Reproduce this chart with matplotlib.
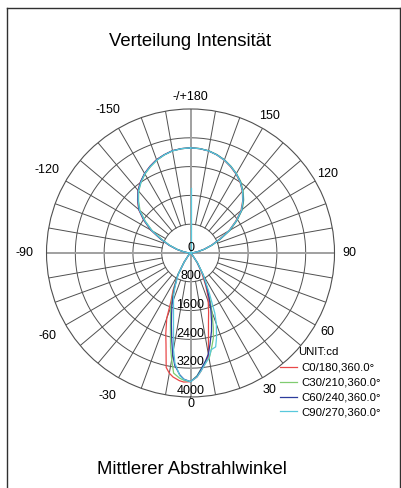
import numpy as np
import matplotlib
matplotlib.use("Agg")
import matplotlib.pyplot as plt
from matplotlib.lines import Line2D

plt.rcParams['font.family'] = ['Liberation Sans', 'DejaVu Sans']

# ====== data (cd) ======
back_neg = list(range(-180, -89, 5))          # -180 .. -90
front = [-60, -40,
         -35, -30, -25, -22, -20, -17, -15, -12, -10, -8, -5, -3, 0,
         3, 5, 8, 10, 12, 15, 17, 20, 22, 25, 30, 35,
         40, 60]
back_pos = list(range(90, 181, 5))            # 90 .. 180
angles = back_neg + front + back_pos

c0 = ([2920, 2910, 2885, 2825, 2760, 2660, 2550, 2420, 2270, 2080, 1880, 1590, 1270, 920, 640, 400, 210, 80, 0]
      + [20, 100,
         300, 700, 1150, 1450, 1930, 2350, 2630, 3250, 3390, 3480, 3560, 3590, 3575,
         3450, 3300, 3060, 2880, 2400, 1930, 1720, 1440, 1300, 1000, 620, 300,
         100, 20]
      + [0, 80, 200, 380, 610, 880, 1230, 1530, 1830, 2050, 2240, 2400, 2530, 2640, 2740, 2820, 2880, 2910, 2920])

c30 = ([2920, 2908, 2880, 2818, 2740, 2640, 2530, 2395, 2240, 2040, 1830, 1530, 1220, 870, 600, 380, 190, 75, 0]
       + [20, 100,
          320, 720, 1080, 1350, 1600, 1900, 2150, 2670, 3010, 3370, 3490, 3540, 3575,
          3420, 3250, 3050, 2980, 2760, 2450, 2165, 1745, 1480, 1150, 720, 350,
          100, 20]
       + [0, 85, 210, 410, 640, 920, 1270, 1580, 1880, 2090, 2270, 2430, 2550, 2660, 2755, 2830, 2885, 2912, 2920])

c60 = ([2920, 2910, 2885, 2825, 2755, 2655, 2550, 2415, 2265, 2070, 1870, 1575, 1260, 905, 630, 395, 200, 80, 0]
       + [20, 100,
          300, 700, 1050, 1300, 1500, 1800, 2050, 2500, 2850, 3150, 3400, 3510, 3575,
          3430, 3260, 3020, 2850, 2600, 2250, 2000, 1650, 1400, 1100, 700, 330,
          100, 20]
       + [0, 80, 200, 390, 620, 900, 1250, 1560, 1860, 2070, 2250, 2415, 2540, 2650, 2750, 2825, 2880, 2910, 2920])

c90 = ([2920, 2908, 2880, 2820, 2745, 2645, 2540, 2400, 2250, 2055, 1850, 1550, 1240, 885, 610, 385, 200, 80, 0]
       + [20, 100,
          300, 680, 1000, 1250, 1380, 1615, 1825, 2270, 2720, 3100, 3420, 3520, 3575,
          3450, 3300, 3080, 2960, 2750, 2700, 2470, 2100, 1800, 1250, 720, 350,
          100, 20]
       + [0, 80, 200, 390, 620, 895, 1240, 1550, 1850, 2060, 2250, 2410, 2540, 2650, 2745, 2822, 2880, 2910, 2920])

spike_angle = [180, 180]
spike_val = [0, 1800]

series_names = ["C0/180,360.0°", "C30/210,360.0°", "C60/240,360.0°", "C90/270,360.0°"]
series_colors = ["#e84848", "#80cc70", "#2c3c9c", "#58c8dc"]

ring_values = [800, 1600, 2400, 3200, 4000]
angle_labels = [0, 30, 60, 90, 120, 150, 180, -150, -120, -90, -60, -30]
r_max = 4000

# ====== figure ======
fig = plt.figure(figsize=(4.02, 4.88), dpi=100)
ax = fig.add_axes([0.1157, 0.1865, 0.7164, 0.5902], projection='polar')
ax.set_theta_zero_location('S')
ax.set_theta_direction(1)
ax.set_ylim(0, r_max)
ax.set_xticks([])
ax.set_yticks([])
ax.grid(False)
ax.spines['polar'].set_color('#505050')
ax.spines['polar'].set_linewidth(0.8)

# grid
full = np.linspace(0, 2 * np.pi, 361)
for r in ring_values[:-1]:
    ax.plot(full, [r] * len(full), color='#505050', lw=0.7, zorder=1)
for a in range(0, 360, 10):
    if a % 90 == 0:
        continue
    t = np.deg2rad(a)
    ax.plot([t, t], [ring_values[0], r_max], color='#505050', lw=0.7, zorder=1)
for a in [0, 90, 180, 270]:
    t = np.deg2rad(a)
    ax.plot([t, t], [0, r_max], color='#a0a0a0', lw=1.4, zorder=1)

# curves
th = np.deg2rad(angles)
handles = []
for vals, col in zip([c0, c30, c60, c90], series_colors):
    h, = ax.plot(th, vals, color=col, lw=0.9, zorder=3)
    handles.append(h)
ax.plot(np.deg2rad(spike_angle), spike_val, color=series_colors[3], lw=0.9, zorder=3)

# radial labels
ax.text(np.pi, 140, "0", ha='center', va='center', fontsize=9, zorder=4)
for r in ring_values:
    ax.text(0, r - 160, str(r), ha='center', va='center', fontsize=9, zorder=4)

# angle labels
for a in angle_labels:
    if a == 180:
        s, rr = "-/+180", 1.085
    elif a == 0:
        s, rr = "0", 1.05
    elif a < 0:
        s, rr = str(a), 1.15
    else:
        s, rr = str(a), 1.10
    ax.text(np.deg2rad(a), r_max * rr, s, ha='center', va='center',
            fontsize=9, clip_on=False)

# titles
fig.text(0.473, 1 - 42 / 488, "Verteilung Intensität", ha='center', va='center', fontsize=13.3)
fig.text(0.478, 1 - 470 / 488, "Mittlerer Abstrahlwinkel", ha='center', va='center', fontsize=13.3)

# legend
fig.text(318 / 402, 1 - 352 / 488, "UNIT:cd", ha='center', va='center', fontsize=8.2)
fig.legend(handles, series_names, loc='upper left', bbox_to_anchor=(280 / 402, 1 - 363 / 488),
           frameon=False, fontsize=8.2, handlelength=1.5, handletextpad=0.35,
           labelspacing=0.42, borderpad=0, borderaxespad=0)

# frame
fig.add_artist(Line2D([7.5 / 402, 7.5 / 402], [0, 1 - 7.5 / 488], color='#303030', lw=1))
fig.add_artist(Line2D([7.5 / 402, 1], [1 - 7.5 / 488, 1 - 7.5 / 488], color='#303030', lw=1))
fig.add_artist(Line2D([400.5 / 402, 400.5 / 402], [0, 1 - 7.5 / 488], color='#303030', lw=1))

fig.savefig("out.png", dpi=100)
